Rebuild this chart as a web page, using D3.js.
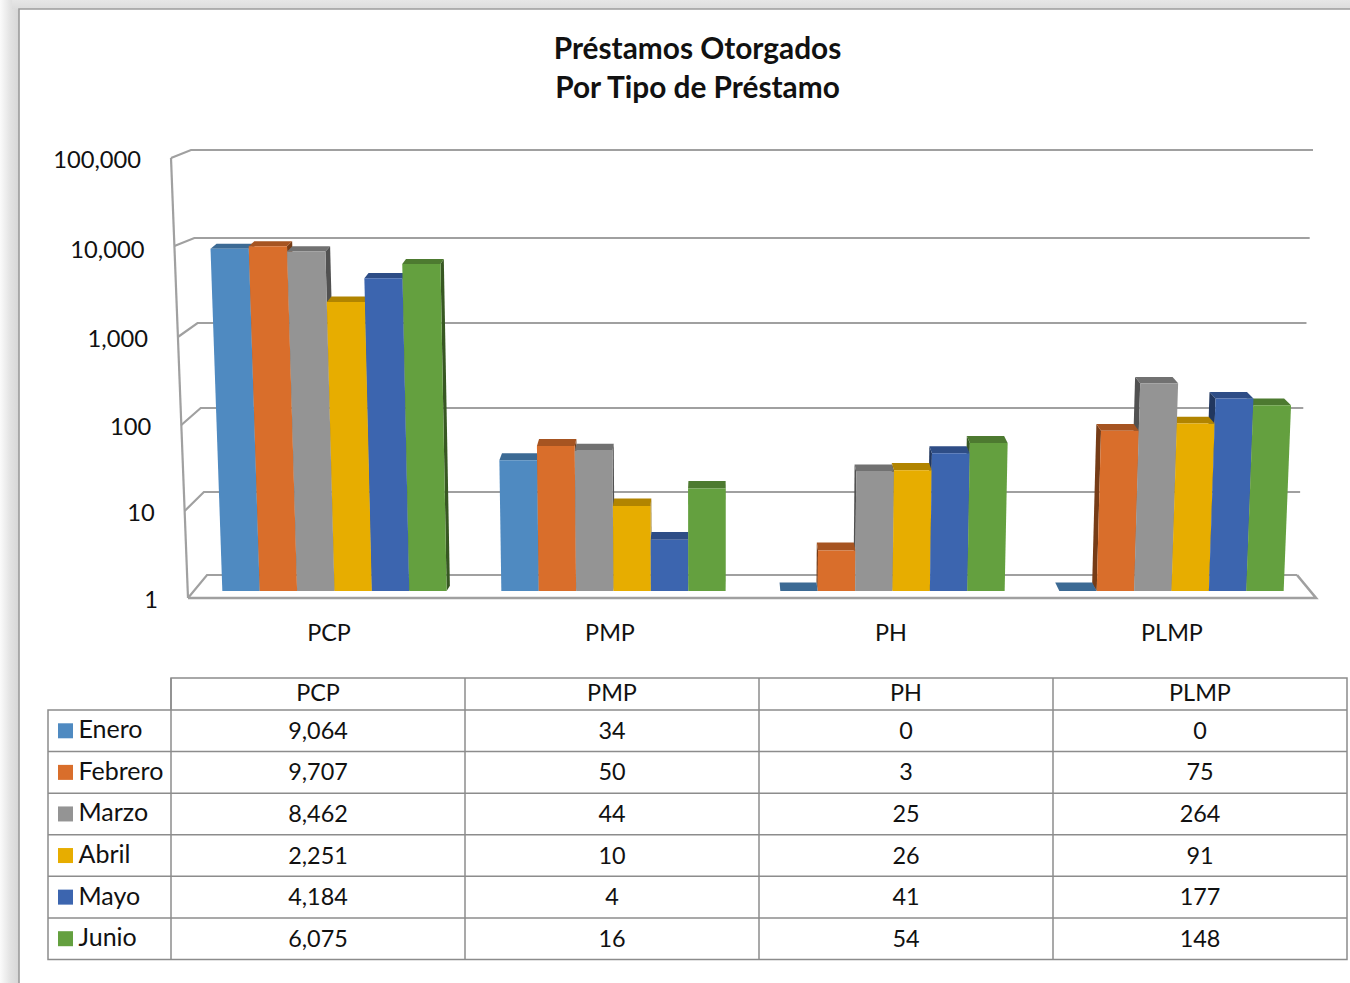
<!DOCTYPE html>
<html><head><meta charset="utf-8">
<script src="https://cdn.jsdelivr.net/npm/d3@7/dist/d3.min.js"></script>
<style>html,body{margin:0;padding:0;background:#fff}svg{display:block}text{font-family:Lato,Carlito,sans-serif;fill:#111}</style>
</head><body><svg id="c" width="1350" height="983"></svg>
<script>
const titleLines = ["Préstamos Otorgados", "Por Tipo de Préstamo"];
const categories = ["PCP", "PMP", "PH", "PLMP"];
const months = ["Enero", "Febrero", "Marzo", "Abril", "Mayo", "Junio"];
const enero = [9064, 34, 0, 0];
const febrero = [9707, 50, 3, 75];
const marzo = [8462, 44, 25, 264];
const abril = [2251, 10, 26, 91];
const mayo = [4184, 4, 41, 177];
const junio = [6075, 16, 54, 148];
const seriesValues = [enero, febrero, marzo, abril, mayo, junio];
const axisTicks = [1, 10, 100, 1000, 10000, 100000];
const frontColors = ["#4f8ac1", "#d96e2b", "#949494", "#e7ad00", "#3c65af", "#64a03f"];

const svg = d3.select("#c");
const fmt = d3.format(",");
const defs = svg.append("defs");
const gl = defs.append("linearGradient").attr("id","sl");
gl.append("stop").attr("offset",0).attr("stop-color","#fbfbfb");
gl.append("stop").attr("offset",.55).attr("stop-color","#e2e2e2");
gl.append("stop").attr("offset",1).attr("stop-color","#d6d6d6");
const gt = defs.append("linearGradient").attr("id","st").attr("x1",0).attr("x2",0).attr("y1",0).attr("y2",1);
gt.append("stop").attr("offset",0).attr("stop-color","#e6e6e6");
gt.append("stop").attr("offset",1).attr("stop-color","#dcdcdc");

// page frame and its shadow
svg.append("rect").attr("x",0).attr("y",0).attr("width",19).attr("height",983).attr("fill","url(#sl)");
svg.append("rect").attr("x",12).attr("y",0).attr("width",1338).attr("height",9).attr("fill","url(#st)");
svg.append("path").attr("d","M19,983V9H1350").attr("fill","#fff").attr("stroke","#9c9c9c").attr("stroke-width",1.6);

// title
svg.selectAll(".ttl").data(titleLines).join("text").attr("class","ttl")
  .attr("x",697.5).attr("y",(d,i)=>59+i*39).attr("text-anchor","middle")
  .attr("font-size",29.8).attr("font-weight",700).text(d=>d);

// wall scales (the perspective frame of the 3-D chart)
const yFront = d3.scaleLog().domain(axisTicks).range([598,511,425,337,246,158]);
const yBack = d3.scaleLog().domain(axisTicks).range([575,492,408,323,238,150]);
const xFrontLeft = d3.scaleLinear().domain([598,158]).range([188,171]);
const xBackLeft = d3.scaleLinear().domain([575,150]).range([207,191]);
const xBackRight = d3.scaleLinear().domain([575,150]).range([1297,1313]);
const wall = svg.append("g").attr("fill","none").attr("stroke","#a0a0a0").attr("stroke-width",2.2);
const ln = d3.line();
wall.append("path").attr("d",ln([[xFrontLeft(yFront(1)),yFront(1)],[xFrontLeft(yFront(1e5)),yFront(1e5)]]));
axisTicks.forEach(t=>{
  const f=yFront(t), b=yBack(t);
  wall.append("path").attr("d",ln([[xFrontLeft(f),f],[xBackLeft(b),b],[xBackRight(b),b]]));
});
wall.append("path").attr("stroke-width",2.6)
  .attr("d",ln([[xFrontLeft(yFront(1)),yFront(1)],[1316,yFront(1)],[xBackRight(yBack(1)),yBack(1)]]));

// axis labels
svg.selectAll(".yl").data(axisTicks).join("text").attr("class","yl")
  .attr("x",t=>xFrontLeft(yFront(t))-30).attr("y",t=>yFront(t)+(t===10000?12:10))
  .attr("text-anchor","end").attr("font-size",23.7).text(t=>fmt(t));

// bars
const baseY = 591, cx = 716, persp = 7e-5, lean = 0.012;
const y = d3.scaleLog().domain(axisTicks).range([baseY,506,420,333,245,158]).clamp(true);
const x0 = d3.scaleBand().domain(categories).range([195,1311]).paddingInner(.196).paddingOuter(.098);
const x1 = d3.scaleBand().domain(months).range([0,x0.bandwidth()]);
const px = (u,yy)=>cx+(u-cx)*(1+persp*(baseY-yy));
const bars = [];
months.forEach((m,mi)=>categories.forEach((c,ci)=>{
  const v = seriesValues[mi][ci];
  const l = x0(c)+x1(m), r = l+x1.bandwidth(), top = y(Math.max(v,1));
  bars.push({mi,l,r,top,v});
}));
const col = (i,k)=>d3.color(frontColors[i]).darker(k).formatHex();
const depth = bars.slice().sort((a,b)=>Math.abs((b.l+b.r)/2-cx)-Math.abs((a.l+a.r)/2-cx));
const gB = svg.append("g");
depth.forEach(b=>{
  const yt=b.top, yb=baseY;
  const tl=px(b.l,yt), tr=px(b.r,yt), bl=px(b.l,yb), br=px(b.r,yb);
  const dy=5+(yt-248)*0.01;
  const back=u=>u+(cx-u)*lean;
  if(b.v>=1){
    const side = b.l>cx ? [[tl,yt],[back(tl),yt-dy],[back(bl),yb-dy],[bl,yb]]
                        : [[tr,yt],[back(tr),yt-dy],[back(br),yb-dy],[br,yb]];
    gB.append("path").attr("d",ln(side)+"Z").attr("fill",col(b.mi,1.7));
  }
  gB.append("path").attr("d",ln([[tl,yt],[back(tl),yt-dy],[back(tr),yt-dy],[tr,yt]])+"Z").attr("fill",col(b.mi,.75));
});
bars.filter(b=>b.v>=1).forEach(b=>{
  gB.append("path").attr("d",ln([[px(b.l,b.top),b.top],[px(b.r,b.top),b.top],[b.r,baseY],[b.l,baseY]])+"Z")
    .attr("fill",frontColors[b.mi]);
});

// category labels
const xLabel = d3.scalePoint().domain(categories).range([329,1172]);
svg.selectAll(".cl").data(categories).join("text").attr("class","cl")
  .attr("x",c=>xLabel(c)).attr("y",641).attr("text-anchor","middle")
  .attr("font-size",23.4).text(c=>c);

// data table
const colX = d3.scaleBand().domain(categories).range([171,1347]);
const rowY = d3.scaleBand().domain(months).range([710,959.5]);
const tbl = svg.append("g").attr("fill","none").attr("stroke","#8c8c8c").attr("stroke-width",1.5);
tbl.append("path").attr("d",`M171,710V678H1347V959.5H48V710H1347`);
tbl.selectAll(".v").data(categories).join("path").attr("class","v")
  .attr("d",c=>`M${colX(c)},678V959.5`);
tbl.selectAll(".h").data(months.slice(1)).join("path").attr("class","h")
  .attr("d",m=>`M48,${rowY(m)}H1347`);
svg.selectAll(".th").data(categories).join("text").attr("class","th")
  .attr("x",c=>colX(c)+colX.bandwidth()/2).attr("y",701).attr("text-anchor","middle")
  .attr("font-size",23.4).text(c=>c);
months.forEach((m,mi)=>{
  const yc=rowY(m)+rowY.bandwidth()/2;
  svg.append("rect").attr("x",58).attr("y",yc-7.5).attr("width",15).attr("height",15).attr("fill",frontColors[mi]);
  svg.append("text").attr("x",78.5).attr("y",yc+7.5).attr("font-size",25).text(m);
  categories.forEach((c,ci)=>{
    svg.append("text").attr("x",colX(c)+colX.bandwidth()/2).attr("y",yc+8)
      .attr("text-anchor","middle").attr("font-size",23.4).text(fmt(seriesValues[mi][ci]));
  });
});
</script></body></html>
